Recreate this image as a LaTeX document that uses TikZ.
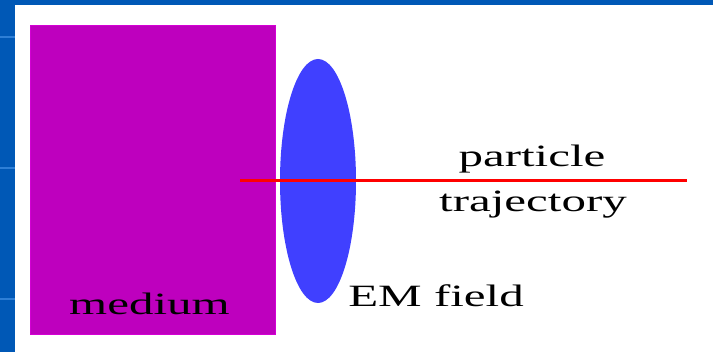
\documentclass[tikz,border=0pt]{standalone}
\usepackage{fontspec}
\setmainfont{Liberation Serif}
\usepackage{xcolor}
\usepackage{tikz}
\usetikzlibrary{shapes.geometric}
\definecolor{slideblue}{HTML}{0058B6}
\definecolor{slideline}{HTML}{2E7FD6}
\definecolor{medmagenta}{HTML}{BE00BE}
\definecolor{medrim}{HTML}{D400D4}
\definecolor{fieldblue}{HTML}{4040FF}
\tikzset{
  mediumbox/.style={rectangle,fill=medmagenta,draw=medrim,line width=1pt,inner sep=0pt,
    minimum width=245pt,minimum height=309pt},
  fieldnode/.style={ellipse,fill=fieldblue,inner sep=0pt,minimum width=76pt,minimum height=244pt},
  trajline/.style={red,line width=3pt},
  lbl/.style={font=\fontsize{31}{31}\selectfont,inner sep=0pt,xscale=1.58,transform shape},
}

\begin{document}
\begin{tikzpicture}[x=1pt,y=1pt]
  % ---- slide background: blue frame on the left and top ----
  \useasboundingbox (0,0) rectangle (713,352);
  \fill[slideblue] (0,0) rectangle (713,352);
  \fill[white] (15,0) rectangle (713,347);
  \foreach \yy in {315,184,53}
    \draw[slideline,line width=1.5pt] (0,\yy) -- (15,\yy);
  % ---- medium, field and trajectory ----
  \node[mediumbox] (medium) at (152.5,171.5) {};
  \node[fieldnode] (field) at (318,171) {};
  \coordinate (trajstart) at (240,171);
  \coordinate (trajend) at (687,171);
  \draw[trajline] (trajstart) -- (trajend);
  \node[lbl,anchor=base] (mediumlbl) at (149.5,37) {medium};
  \node[lbl,anchor=base west] (fieldlbl) at (348,45) {EM field};
  \node[lbl,anchor=base] (partlbl) at (532,185) {particle};
  \node[lbl,anchor=base] (trajlbl) at (533,140) {trajectory};
\end{tikzpicture}
\end{document}
